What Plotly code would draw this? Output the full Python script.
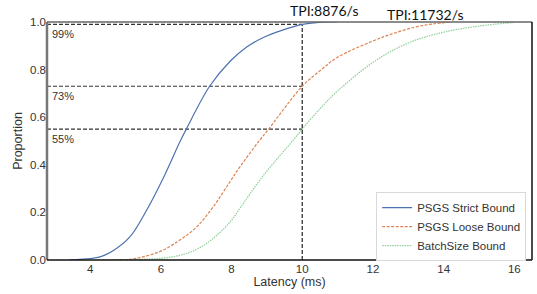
import plotly.graph_objects as go

# ---- data ----
strict_x = [3.4, 3.72, 4.0, 4.28, 4.66, 5.13, 5.6, 6.07, 6.55, 6.72, 7.38, 7.96, 8.43, 8.9, 9.38, 10.0, 10.4, 10.8, 11.0]
strict_y = [0.0, 0.003, 0.006, 0.013, 0.04, 0.098, 0.21, 0.345, 0.50, 0.55, 0.73, 0.835, 0.895, 0.935, 0.963, 0.99, 0.997, 1.0, 1.0]

loose_x = [4.2, 5.13, 5.6, 6.07, 6.55, 7.02, 7.49, 7.96, 8.25, 8.81, 9.05, 9.38, 10.0, 10.5, 11.0, 12.0, 12.5, 13.15, 13.7, 14.23]
loose_y = [0.0, 0.003, 0.017, 0.042, 0.085, 0.14, 0.225, 0.33, 0.394, 0.506, 0.55, 0.615, 0.73, 0.795, 0.852, 0.92, 0.948, 0.977, 0.992, 1.0]

batch_x = [4.6, 5.5, 6.07, 6.55, 7.02, 7.49, 7.96, 8.25, 8.9, 9.76, 10.0, 10.5, 11.0, 12.0, 13.0, 14.0, 15.0, 16.0]
batch_y = [0.0, 0.003, 0.008, 0.02, 0.045, 0.092, 0.16, 0.22, 0.355, 0.506, 0.55, 0.635, 0.71, 0.83, 0.912, 0.957, 0.983, 0.998]

series_names = ["PSGS Strict Bound", "PSGS Loose Bound", "BatchSize Bound"]
ref_latency = 10
ref_levels = [0.99, 0.73, 0.55]
ref_labels = ["99%", "73%", "55%"]
tpi_labels = ["TPI:8876/s", "TPI:11732/s"]
tpi_x = [10.62, 13.48]
x_ticks = [4, 6, 8, 10, 12, 14, 16]
y_ticks = [0.0, 0.2, 0.4, 0.6, 0.8, 1.0]

X_RANGE = [2.78, 16.5]

fig = go.Figure()
fig.add_trace(go.Scatter(x=strict_x, y=strict_y, mode="lines", name=series_names[0],
                         line=dict(color="#4c72b0", width=1.2, shape="spline", smoothing=1.0)))
fig.add_trace(go.Scatter(x=loose_x, y=loose_y, mode="lines", name=series_names[1],
                         line=dict(color="#dd8452", width=1.2, dash="3px,1.5px", shape="spline", smoothing=1.0)))
fig.add_trace(go.Scatter(x=batch_x, y=batch_y, mode="lines", name=series_names[2],
                         line=dict(color="#8fcf98", width=1.2, dash="1.5px,1px", shape="spline", smoothing=1.0)))

# reference dashed lines
for lv in ref_levels:
    fig.add_shape(type="line", xref="x", yref="y", x0=X_RANGE[0], x1=ref_latency, y0=lv, y1=lv,
                  line=dict(color="#333333", width=1.2, dash="4px,2px"), layer="below")
fig.add_shape(type="line", xref="x", yref="y", x0=ref_latency, x1=ref_latency, y0=0, y1=ref_levels[0],
              line=dict(color="#222222", width=1.2, dash="4px,2px"), layer="below")

for lv, lab in zip(ref_levels, ref_labels):
    fig.add_annotation(x=0.006, xref="paper", y=lv, yref="y", text=lab, showarrow=False,
                       xanchor="left", yanchor="top", yshift=-2,
                       font=dict(family="Liberation Sans, Arial, sans-serif", size=11, color="#333333"))

fig.add_annotation(x=tpi_x[0], xref="x", y=1.0504, yref="paper", text=tpi_labels[0], showarrow=False,
                   xanchor="center", yanchor="middle",
                   font=dict(family="Lato, sans-serif", size=14, color="#111111"))
fig.add_annotation(x=tpi_x[1], xref="x", y=1.0336, yref="paper", text=tpi_labels[1], showarrow=False,
                   xanchor="center", yanchor="middle",
                   font=dict(family="Lato, sans-serif", size=14, color="#111111"))

# spines
fig.add_shape(type="line", xref="paper", yref="paper", x0=0, x1=0, y0=0, y1=1,
              line=dict(color="#777777", width=2.5))
fig.add_shape(type="line", xref="paper", yref="paper", x0=0, x1=1, y0=1, y1=1,
              line=dict(color="#666666", width=1.5))
fig.add_shape(type="line", xref="paper", yref="paper", x0=0, x1=1, y0=0, y1=0,
              line=dict(color="#111111", width=1.5))
fig.add_shape(type="line", xref="paper", yref="paper", x0=1, x1=1, y0=0, y1=1,
              line=dict(color="#111111", width=1.5))

fig.update_layout(
    width=537, height=294,
    margin=dict(l=47, r=5, t=22, b=34),
    paper_bgcolor="white", plot_bgcolor="white",
    font=dict(family="Liberation Sans, Arial, sans-serif", size=11.5, color="#333333"),
    xaxis=dict(range=X_RANGE, tickvals=x_ticks, showgrid=False, zeroline=False, showline=False,
               ticks="", title=dict(text="Latency (ms)", standoff=3, font=dict(size=12.5)),
               tickfont=dict(size=11.5)),
    yaxis=dict(range=[0, 1], tickvals=y_ticks, tickformat=".1f", showgrid=False, zeroline=False,
               showline=False, ticks="", title=dict(text="Proportion", standoff=4, font=dict(size=12.5)),
               tickfont=dict(size=11.5)),
    legend=dict(x=0.988, y=-0.005, xanchor="right", yanchor="bottom",
                bgcolor="white", bordercolor="#d9d9d9", borderwidth=1,
                font=dict(size=11.5, color="#333333"), tracegroupgap=0, itemwidth=30),
    showlegend=True,
)

fig.write_html("out.html", config={"displayModeBar": False},
               post_script="document.body.style.margin='0';document.body.style.overflow='hidden';")
